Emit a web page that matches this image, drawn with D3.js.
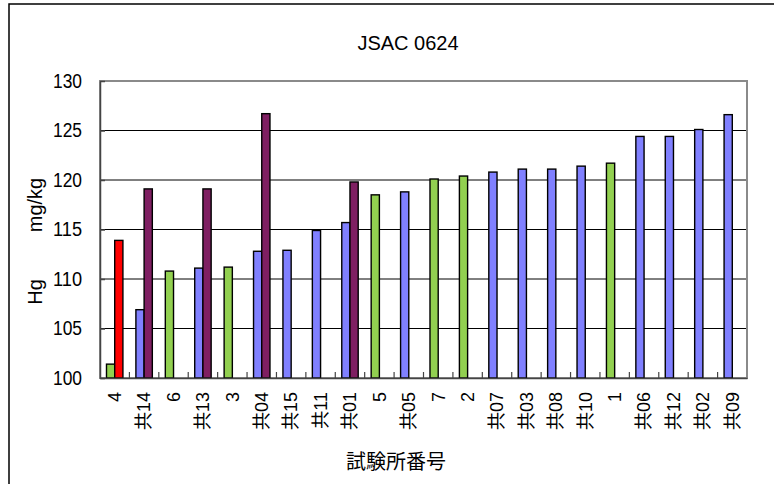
<!DOCTYPE html>
<html>
<head>
<meta charset="utf-8">
<script src="https://cdn.jsdelivr.net/npm/d3@7"></script>
<style>
  html, body { margin: 0; padding: 0; background: #fff; }
  svg { display: block; }
  text { font-family: "Liberation Sans", Arial, "Noto Sans CJK JP", sans-serif; fill: #000; }
</style>
</head>
<body>
<svg id="chart" width="774" height="484"></svg>
<script>
// ---- data ----
const title = "JSAC 0624";
const xTitle = "試験所番号";
const yTitleUnit = "mg/kg";
const yTitleElem = "Hg";
const categories = ["4","共14","6","共13","3","共04","共15","共11","共01","5","共05","7","2","共07","共03","共08","共10","1","共06","共12","共02","共09"];
// left slot series (per-point colour group)
const seriesA = [101.4,106.9,110.8,111.1,111.2,112.8,112.9,114.9,115.7,118.5,118.8,120.1,120.4,120.8,121.1,121.1,121.4,121.7,124.4,124.4,125.1,126.6];
const seriesAGroup = ["g","b","g","b","g","b","b","b","b","g","b","g","g","b","b","b","b","g","b","b","b","b"];
// right slot series
const seriesB = [113.9,119.1,null,119.1,null,126.7,null,null,119.8,null,null,null,null,null,null,null,null,null,null,null,null,null];
const seriesBGroup = ["r","p",null,"p",null,"p",null,null,"p",null,null,null,null,null,null,null,null,null,null,null,null,null];
const yTicks = [100,105,110,115,120,125,130];
const colours = { g: "#92D050", b: "#8080FF", r: "#FF0000", p: "#7F1F62" };

// ---- layout ----
const svg = d3.select("#chart");
const plot = { left: 100, right: 747, top: 81, bottom: 378 };

// outer chart border (extends beyond the frame on right/bottom)
svg.append("path")
  .attr("d", "M9,490 L9,4 L790,4")
  .attr("fill", "none").attr("stroke", "#000").attr("stroke-width", 1.5);

const x = d3.scaleBand().domain(categories).range([plot.left, plot.right]).paddingInner(0).paddingOuter(0);
const slot = d3.scaleBand().domain(["A","B"]).range([0, x.bandwidth()]).paddingInner(0).paddingOuter(0.79);
const y = d3.scaleLinear().domain([100, 130]).range([plot.bottom, plot.top]);

// grid lines
svg.append("g").selectAll("line").data(yTicks.filter(t => t > 100 && t < 130)).join("line")
  .attr("x1", plot.left).attr("x2", plot.right)
  .attr("y1", d => y(d)).attr("y2", d => y(d))
  .attr("stroke", "#000").attr("stroke-width", 1);

// plot frame
svg.append("rect")
  .attr("x", plot.left).attr("y", plot.top)
  .attr("width", plot.right - plot.left).attr("height", plot.bottom - plot.top)
  .attr("fill", "none").attr("stroke", "#8a8a8a").attr("stroke-width", 2);

// bars
const rowsA = categories.map((c, i) => ({ c, v: seriesA[i], g: seriesAGroup[i] })).filter(d => d.v != null);
const rowsB = categories.map((c, i) => ({ c, v: seriesB[i], g: seriesBGroup[i] })).filter(d => d.v != null);
function drawBars(rows, key) {
  svg.append("g").selectAll("rect").data(rows).join("rect")
    .attr("x", d => x(d.c) + slot(key))
    .attr("width", slot.bandwidth())
    .attr("y", d => y(d.v))
    .attr("height", d => y(100) - y(d.v))
    .attr("fill", d => colours[d.g])
    .attr("stroke", "#000").attr("stroke-width", 1.4);
}
drawBars(rowsA, "A");
drawBars(rowsB, "B");

// y axis
const yAxis = d3.axisLeft(y).tickValues(yTicks).tickFormat(d3.format("d"))
  .tickSizeInner(-5).tickSizeOuter(0).tickPadding(18);
const gy = svg.append("g").attr("transform", `translate(${plot.left},0)`).call(yAxis);
gy.select(".domain").attr("stroke", "#444").attr("stroke-width", 1.5);
gy.selectAll(".tick line").attr("stroke", "#444").attr("stroke-width", 1.5);
gy.selectAll(".tick text").attr("font-size", 20).attr("font-family", "Liberation Sans, Arial, sans-serif")
  .attr("fill", "#000").attr("textLength", 29).attr("lengthAdjust", "spacingAndGlyphs");

// x axis (labels) + boundary ticks
const xAxis = d3.axisBottom(x).tickSize(0).tickPadding(0);
const gx = svg.append("g").attr("transform", `translate(0,${plot.bottom})`).call(xAxis);
gx.select(".domain").attr("stroke", "#444").attr("stroke-width", 1.5);
gx.selectAll(".tick text")
  .attr("font-size", 18)
  .attr("font-family", "Liberation Sans, Arial, 'Noto Sans CJK JP', sans-serif")
  .attr("text-anchor", "end")
  .attr("transform", "translate(0,14) rotate(-90)")
  .attr("x", 0).attr("y", 0).attr("dy", "0.35em");
const bounds = categories.slice(1).map(c => x(c));
svg.append("g").selectAll("line").data(bounds).join("line")
  .attr("x1", d => d).attr("x2", d => d)
  .attr("y1", plot.bottom).attr("y2", plot.bottom - 6)
  .attr("stroke", "#444").attr("stroke-width", 1.2);

// titles
svg.append("text").attr("x", 408).attr("y", 50).attr("text-anchor", "middle")
  .attr("font-size", 20).text(title);
svg.append("text").attr("x", 396).attr("y", 469).attr("text-anchor", "middle")
  .attr("font-size", 20).attr("font-family", "'Noto Sans CJK JP', sans-serif").text(xTitle);
svg.append("text").attr("transform", "translate(42,292) rotate(-90)").attr("text-anchor", "middle")
  .attr("font-size", 20).text(yTitleElem);
svg.append("text").attr("transform", "translate(42,205) rotate(-90)").attr("text-anchor", "middle")
  .attr("font-size", 20).text(yTitleUnit);
</script>
</body>
</html>
